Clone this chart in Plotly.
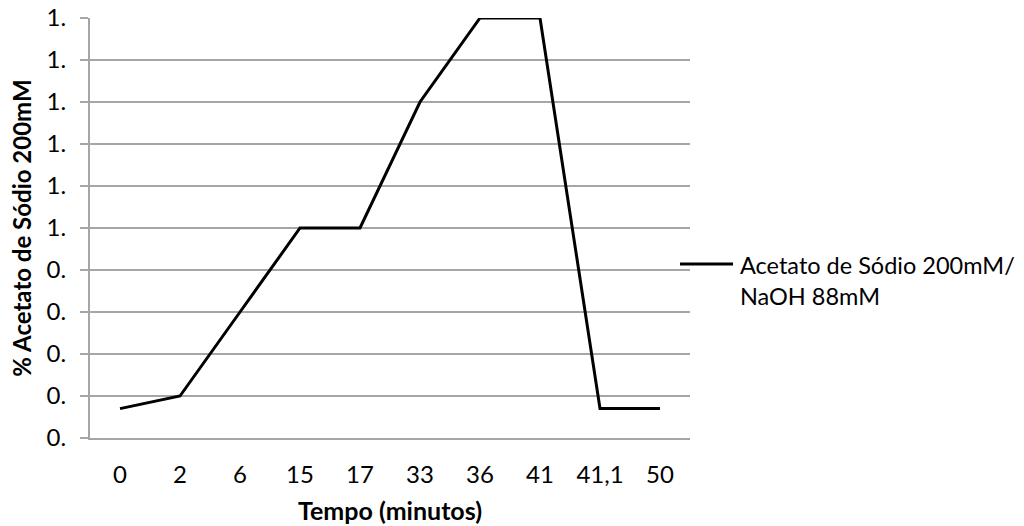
import plotly.graph_objects as go

# Elution time points (minutes) as category labels
tempo = ["0", "2", "6", "15", "17", "33", "36", "41", "41,1", "50"]
# Percentage of sodium acetate buffer at each time point
acetato = [0.14, 0.2, 0.6, 1.0, 1.0, 1.6, 2.0, 2.0, 0.14, 0.14]

# Y axis ticks and their (truncated) labels
y_ticks = [0.0, 0.2, 0.4, 0.6, 0.8, 1.0, 1.2, 1.4, 1.6, 1.8, 2.0]
y_tick_text = ["0.", "0.", "0.", "0.", "0.", "1.", "1.", "1.", "1.", "1.", "1."]

serie_nome = "Acetato de Sódio 200mM/<br>NaOH 88mM"

FONT = "Lato"
GRID = "#A6A6A6"
TICK_SIZE = 24
LEGEND_SIZE = 23.5
TITLE_SIZE = 25

fig = go.Figure()
fig.add_trace(go.Scatter(
    x=tempo, y=acetato, mode="lines", name=serie_nome,
    line=dict(color="black", width=3),
    showlegend=False,
))

# Legend key: a short black line sample followed by the series name
fig.add_shape(
    type="line", xref="paper", yref="paper",
    x0=0.9833, x1=1.0717, y0=0.414, y1=0.414,
    line=dict(color="black", width=3),
)
fig.add_annotation(
    text=serie_nome, xref="paper", yref="paper",
    x=1.08, y=0.45, xanchor="left", yanchor="top", align="left",
    showarrow=False, font=dict(family=FONT, size=LEGEND_SIZE, color="black"),
)

fig.update_layout(
    width=1024, height=526,
    margin=dict(l=90, r=334, t=18, b=88),
    paper_bgcolor="white", plot_bgcolor="white",
    font=dict(family=FONT, size=TICK_SIZE, color="black"),
    xaxis=dict(
        type="category", range=[-0.5, 9.5], automargin=False,
        showgrid=False, showline=True, linecolor=GRID, linewidth=2,
        ticks="", ticklabelstandoff=14,
        tickfont=dict(family=FONT, size=TICK_SIZE),
        title=dict(text="<b>Tempo (minutos)</b>", font=dict(family=FONT, size=TITLE_SIZE), standoff=16),
    ),
    yaxis=dict(
        range=[0, 2.0], tickmode="array", tickvals=y_ticks, ticktext=y_tick_text,
        automargin=False,
        showgrid=True, gridcolor=GRID, gridwidth=2,
        showline=True, linecolor=GRID, linewidth=2,
        ticks="outside", ticklen=8, tickcolor=GRID, tickwidth=2,
        ticklabelstandoff=9,
        tickfont=dict(family=FONT, size=TICK_SIZE),
        zeroline=False,
        title=dict(text="<b>% Acetato de Sódio 200mM</b>", font=dict(family=FONT, size=24), standoff=8),
    ),
)

fig.write_html("out.html")
